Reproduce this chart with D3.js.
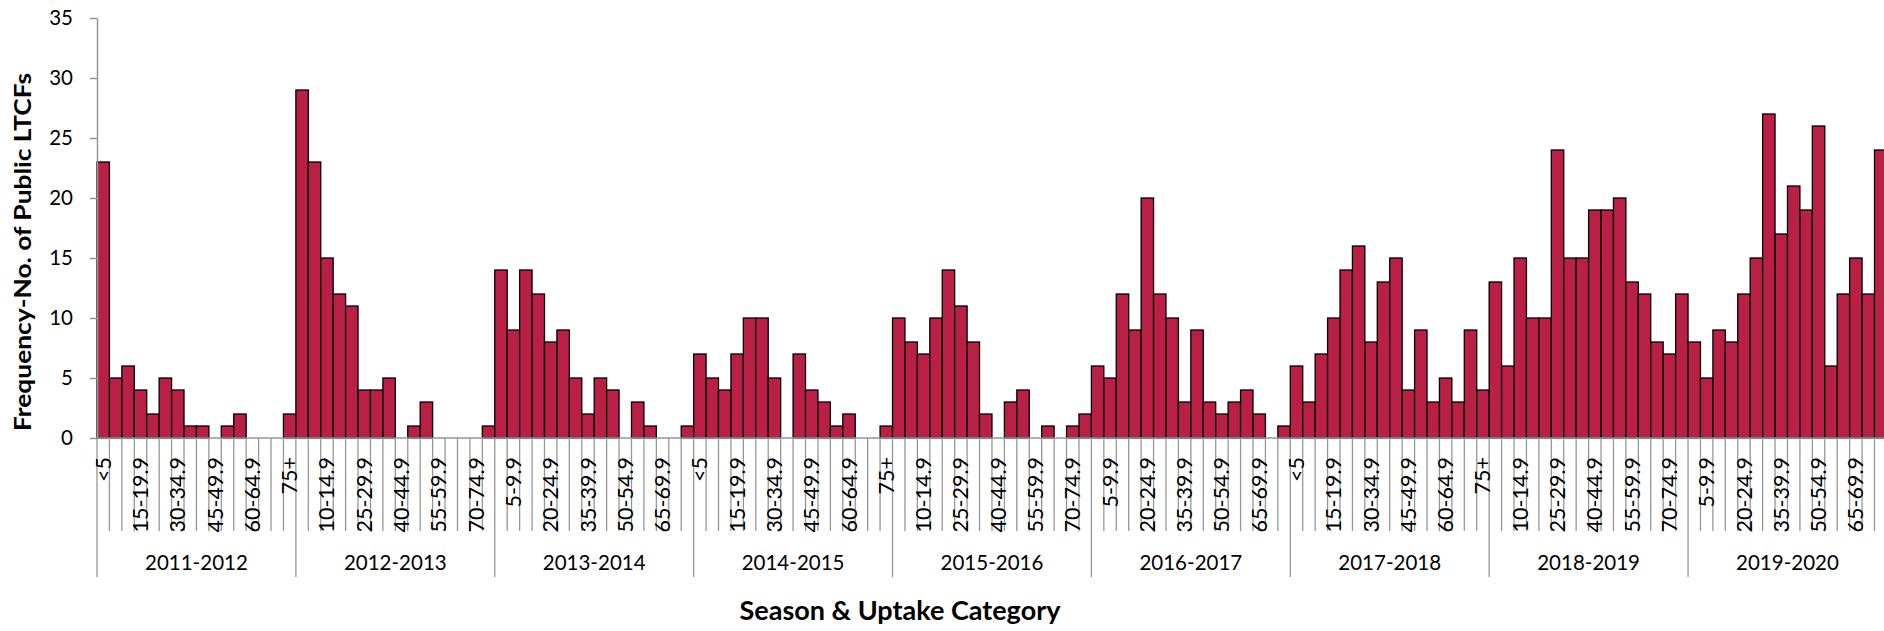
<!DOCTYPE html>
<html>
<head>
<meta charset="utf-8">
<script src="https://cdn.jsdelivr.net/npm/d3@7"></script>
<style>
  body { margin: 0; background: #fff; overflow: hidden; }
  svg { display: block; font-family: Lato, "Open Sans", sans-serif; }
</style>
</head>
<body>
<svg id="chart"></svg>
<script>
// seasons and uptake categories
const seasons = ["2011-2012", "2012-2013", "2013-2014", "2014-2015", "2015-2016",
                 "2016-2017", "2017-2018", "2018-2019", "2019-2020"];
const uptake = ["<5", "5-9.9", "10-14.9", "15-19.9", "20-24.9", "25-29.9", "30-34.9", "35-39.9",
                "40-44.9", "45-49.9", "50-54.9", "55-59.9", "60-64.9", "65-69.9", "70-74.9", "75+"];

// frequency (no. of public LTCFs) per uptake category, one array per season
const s2011 = [23, 5, 6, 4, 2, 5, 4, 1, 1, 0, 1, 2, 0, 0, 0, 2];
const s2012 = [29, 23, 15, 12, 11, 4, 4, 5, 0, 1, 3, 0, 0, 0, 0, 1];
const s2013 = [14, 9, 14, 12, 8, 9, 5, 2, 5, 4, 0, 3, 1, 0, 0, 1];
const s2014 = [7, 5, 4, 7, 10, 10, 5, 0, 7, 4, 3, 1, 2, 0, 0, 1];
const s2015 = [10, 8, 7, 10, 14, 11, 8, 2, 0, 3, 4, 0, 1, 0, 1, 2];
const s2016 = [6, 5, 12, 9, 20, 12, 10, 3, 9, 3, 2, 3, 4, 2, 0, 1];
const s2017 = [6, 3, 7, 10, 14, 16, 8, 13, 15, 4, 9, 3, 5, 3, 9, 4];
const s2018 = [13, 6, 15, 10, 10, 24, 15, 15, 19, 19, 20, 13, 12, 8, 7, 12];
const s2019 = [8, 5, 9, 8, 12, 15, 27, 17, 21, 19, 26, 6, 12, 15, 12, 24];

const yTicks = [0, 5, 10, 15, 20, 25, 30, 35];

const seriesBySeason = [s2011, s2012, s2013, s2014, s2015, s2016, s2017, s2018, s2019];

// flatten into one row per bar
const rows = [];
seasons.forEach((s, si) => {
    uptake.forEach((u, ui) => {
        rows.push({ key: s + "|" + u, season: s, cat: u, idx: si * uptake.length + ui, value: seriesBySeason[si][ui] });
    });
});

const width = 1884, height = 631;
const plotLeft = 97, plotTop = 18, plotBottom = 438;
const barW = 12.43;
const plotRight = plotLeft + rows.length * barW; // runs a bit past the edge, like the original

const svg = d3.select("#chart").attr("width", width).attr("height", height);

const x = d3.scaleBand()
    .domain(rows.map(d => d.key))
    .range([plotLeft, plotRight])
    .padding(0);

const y = d3.scaleLinear()
    .domain([0, 35])
    .range([plotBottom, plotTop]);

const axisColor = "#969696";

// bars
svg.append("g")
    .selectAll("rect")
    .data(rows)
    .enter().append("rect")
    .attr("x", d => x(d.key))
    .attr("y", d => y(d.value))
    .attr("width", x.bandwidth())
    .attr("height", d => y(0) - y(d.value))
    .attr("fill", "#BA2046")
    .attr("stroke", "#000")
    .attr("stroke-width", 1.3)
    .style("display", d => d.value > 0 ? null : "none");

// y axis
const yAxis = svg.append("g")
    .attr("transform", `translate(${plotLeft},0)`)
    .call(d3.axisLeft(y).tickValues(yTicks).tickSize(7).tickPadding(17).tickSizeOuter(0));
yAxis.select(".domain").attr("stroke", axisColor).attr("stroke-width", 1.5);
yAxis.selectAll(".tick line").attr("stroke", axisColor).attr("stroke-width", 1.5);
yAxis.selectAll(".tick text")
    .attr("font-size", 20.5)
    .attr("font-family", "Lato, sans-serif")
    .attr("fill", "#000");

// x axis: baseline
svg.append("line")
    .attr("x1", plotLeft).attr("x2", plotRight)
    .attr("y1", plotBottom).attr("y2", plotBottom)
    .attr("stroke", axisColor).attr("stroke-width", 1.5);

// category separators (longer ones between seasons)
const bounds = d3.range(rows.length + 1);
svg.append("g")
    .selectAll("line")
    .data(bounds)
    .enter().append("line")
    .attr("x1", i => plotLeft + i * x.step())
    .attr("x2", i => plotLeft + i * x.step())
    .attr("y1", plotBottom)
    .attr("y2", i => i % uptake.length === 0 ? 577 : 531)
    .attr("stroke", axisColor)
    .attr("stroke-width", 1.3);

// uptake labels, every third category
svg.append("g")
    .selectAll("text")
    .data(rows.filter(d => d.idx % 3 === 0))
    .enter().append("text")
    .attr("transform", d => `translate(${x(d.key) + x.bandwidth() / 2},${plotBottom}) rotate(-90)`)
    .attr("x", -19)
    .attr("dy", "0.35em")
    .attr("text-anchor", "end")
    .attr("font-size", 21.5)
    .text(d => d.cat);

// season labels
svg.append("g")
    .selectAll("text")
    .data(seasons)
    .enter().append("text")
    .attr("x", (s, i) => plotLeft + (i + 0.5) * uptake.length * x.step())
    .attr("y", 570)
    .attr("text-anchor", "middle")
    .attr("font-size", 20.5)
    .text(s => s);

// axis titles
svg.append("text")
    .attr("x", 900)
    .attr("y", 620)
    .attr("text-anchor", "middle")
    .attr("font-size", 27)
    .attr("font-weight", "bold")
    .text("Season & Uptake Category");

// y title starts just above the zero line and reads upward
svg.append("text")
    .attr("transform", "translate(31,431) rotate(-90)")
    .attr("text-anchor", "start")
    .attr("font-size", 22)
    .attr("font-weight", "bold")
    .attr("textLength", 358)
    .attr("lengthAdjust", "spacingAndGlyphs")
    .text("Frequency-No. of Public LTCFs");
</script>
</body>
</html>
